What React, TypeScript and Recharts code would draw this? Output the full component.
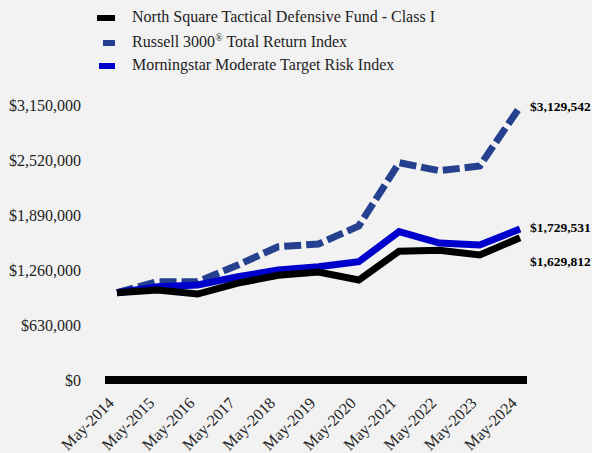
import { LineChart, Line, XAxis, YAxis, LabelList } from "recharts";

const years = [
  "May-2014", "May-2015", "May-2016", "May-2017", "May-2018", "May-2019",
  "May-2020", "May-2021", "May-2022", "May-2023", "May-2024",
];
const fund = [1000000, 1030000, 985000, 1110000, 1200000, 1237000, 1145000, 1475000, 1485000, 1432000, 1629812];
const russell = [1000000, 1126000, 1126000, 1317000, 1527000, 1558000, 1764000, 2489000, 2397000, 2451000, 3129542];
const morningstar = [1000000, 1069000, 1088000, 1183000, 1260000, 1298000, 1355000, 1699000, 1569000, 1546000, 1729531];
const yTicks = [0, 630000, 1260000, 1890000, 2520000, 3150000];

const FONT = '"Liberation Serif", "Times New Roman", serif';
const money = (v: number) => "$" + v.toLocaleString("en-US");

const data = years.map((name, i) => ({
  name,
  fund: fund[i],
  russell: russell[i],
  morningstar: morningstar[i],
}));

const legendItems = [
  { label: "North Square Tactical Defensive Fund - Class I", color: "#000000", w: 18, x: 97 },
  { label: "Russell 3000", sup: "®", rest: " Total Return Index", color: "#25408f", w: 12, x: 103 },
  { label: "Morningstar Moderate Target Risk Index", color: "#0000cc", w: 16, x: 99 },
];

function endLabel(dy: number) {
  return (props: any) => {
    const { x, y, index, value } = props;
    if (index !== years.length - 1) return null;
    return (
      <text
        x={x + 10}
        y={y + dy}
        dominantBaseline="central"
        fontFamily={FONT}
        fontSize={13.5}
        fontWeight="bold"
        fill="#000"
      >
        {money(value)}
      </text>
    );
  };
}

function XTick(props: any) {
  const { x, y, payload } = props;
  const tx = x - 2;
  const ty = y + 16;
  return (
    <text
      x={tx}
      y={ty}
      transform={`rotate(-45, ${tx}, ${ty})`}
      textAnchor="end"
      fontFamily={FONT}
      fontSize={16}
      fill="#222"
    >
      {payload.value}
    </text>
  );
}

export default function App() {
  return (
    <div
      style={{
        position: "absolute",
        left: 0,
        top: 0,
        width: 592,
        height: 453,
        background: "#f2f2f2",
        fontFamily: FONT,
      }}
    >
      {legendItems.map((it, i) => (
        <div
          key={i}
          style={{
            position: "absolute",
            left: 0,
            top: [18, 43, 66][i],
            width: 592,
            height: 0,
          }}
        >
          <div
            style={{
              position: "absolute",
              left: it.x,
              top: -3,
              width: it.w,
              height: 6,
              background: it.color,
            }}
          />
          <div
            style={{
              position: "absolute",
              left: 132,
              top: -11,
              fontSize: 16,
              lineHeight: "20px",
              color: "#222",
              whiteSpace: "nowrap",
            }}
          >
            {it.label}
            {it.sup && <sup style={{ fontSize: 10, lineHeight: 0 }}>{it.sup}</sup>}
            {it.rest}
          </div>
        </div>
      ))}
      <LineChart
        width={592}
        height={453}
        data={data}
        margin={{ top: 105, right: 65, bottom: 13, left: 0 }}
        style={{ position: "absolute", left: 0, top: 0 }}
      >
        <XAxis
          dataKey="name"
          axisLine={{ stroke: "#000", strokeWidth: 8 }}
          tickLine={false}
          height={60}
          padding={{ left: 12, right: 7 }}
          interval={0}
          tick={<XTick />}
        />
        <YAxis
          width={105}
          domain={[0, 3150000]}
          ticks={yTicks}
          axisLine={false}
          tickLine={false}
          tickMargin={18}
          tickFormatter={money}
          tick={{ fontFamily: FONT, fontSize: 16, fill: "#222" }}
        />
        <Line
          dataKey="russell"
          stroke="#25408f"
          strokeWidth={7}
          strokeDasharray="17 5"
          dot={false}
          isAnimationActive={false}
        >
          <LabelList dataKey="russell" content={endLabel(0)} />
        </Line>
        <Line
          dataKey="morningstar"
          stroke="#0000cc"
          strokeWidth={7}
          dot={false}
          isAnimationActive={false}
        >
          <LabelList dataKey="morningstar" content={endLabel(-2)} />
        </Line>
        <Line
          dataKey="fund"
          stroke="#000000"
          strokeWidth={7}
          dot={false}
          isAnimationActive={false}
        >
          <LabelList dataKey="fund" content={endLabel(24)} />
        </Line>
      </LineChart>
    </div>
  );
}
